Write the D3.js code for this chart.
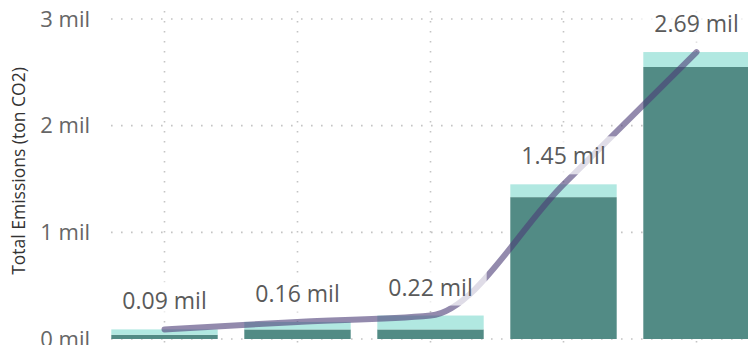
<!DOCTYPE html>
<html>
<head>
<meta charset="utf-8">
<script src="https://cdn.jsdelivr.net/npm/d3@7"></script>
<style>
  html, body { margin: 0; padding: 0; background: #ffffff; overflow: hidden; }
  svg { display: block; font-family: "Open Sans", "Noto Sans", sans-serif; }
</style>
</head>
<body>
<svg id="chart" width="748" height="345"></svg>
<script>
// Emissions per group, in millions of tonnes CO2
const categories = ["Group 1", "Group 2", "Group 3", "Group 4", "Group 5"];
const baseEmissions = [0.04, 0.09, 0.09, 1.33, 2.55];     // dark segment
const extraEmissions = [0.05, 0.07, 0.13, 0.12, 0.14];    // light segment on top
const totalEmissions = [0.09, 0.16, 0.22, 1.45, 2.69];    // line + labels
const yTicks = [0, 1, 2, 3];
const yTitle = "Total Emissions (ton CO2)";

const svg = d3.select("#chart");

const x = d3.scaleBand()
  .domain(categories)
  .range([98, 763])
  .paddingInner(0.2)
  .paddingOuter(0.1);

const y = d3.scaleLinear().domain([0, 3]).range([339, 19]);

const tickFmt = d => d + " mil";
const labelFmt = d => d3.format(".2f")(d) + " mil";

// gridlines (dotted)
const grid = svg.append("g").attr("class", "grid");
grid.selectAll("line.h").data(yTicks).join("line")
  .attr("class", "h")
  .attr("x1", 111).attr("x2", 748)
  .attr("y1", d => y(d)).attr("y2", d => y(d))
  .attr("stroke", "#c4c4c4").attr("stroke-width", 1.6)
  .attr("stroke-dasharray", "1.6 8.4");
grid.selectAll("line.v").data(categories).join("line")
  .attr("class", "v")
  .attr("x1", d => x(d) + x.bandwidth() / 2).attr("x2", d => x(d) + x.bandwidth() / 2)
  .attr("y1", 11).attr("y2", 345)
  .attr("stroke", "#c4c4c4").attr("stroke-width", 1.6)
  .attr("stroke-dasharray", "1.6 8.4");

// y axis labels
const yAxis = d3.axisLeft(y).tickValues(yTicks).tickFormat(tickFmt).tickSize(0).tickPadding(0);
const yg = svg.append("g").attr("transform", "translate(90,0)").call(yAxis);
yg.select(".domain").remove();
yg.selectAll("text")
  .attr("fill", "#666666")
  .style("font-size", "22px")
  .style("font-family", "'Open Sans', sans-serif");

// axis title
svg.append("text")
  .attr("transform", "translate(18,171) rotate(-90)")
  .attr("text-anchor", "middle")
  .attr("dominant-baseline", "central")
  .attr("fill", "#333333")
  .style("font-size", "17.5px")
  .text(yTitle);

// stacked bars
const rows = categories.map((c, i) => ({ cat: c, base: baseEmissions[i], extra: extraEmissions[i] }));
const series = d3.stack().keys(["base", "extra"])(rows);
const colors = { base: "#528b85", extra: "#b1e8e1" };

svg.append("g").selectAll("g").data(series).join("g")
  .attr("fill", s => colors[s.key])
  .selectAll("rect").data(s => s).join("rect")
  .attr("x", d => x(d.data.cat))
  .attr("width", x.bandwidth())
  .attr("y", d => y(d[1]))
  .attr("height", d => y(d[0]) - y(d[1]));

// total line
const pts = categories.map((c, i) => [x(c) + x.bandwidth() / 2, y(totalEmissions[i])]);
svg.append("path")
  .datum(pts)
  .attr("d", d3.line().curve(d3.curveMonotoneX))
  .attr("fill", "none")
  .attr("stroke", "#4b3c77")
  .attr("stroke-opacity", 0.6)
  .attr("stroke-width", 6)
  .attr("stroke-linecap", "round")
  .attr("stroke-linejoin", "round");

// data labels with translucent backgrounds
const lg = svg.append("g");
categories.forEach((c, i) => {
  const g = lg.append("g");
  const t = g.append("text")
    .attr("x", x(c) + x.bandwidth() / 2)
    .attr("y", y(totalEmissions[i]) - 29)
    .attr("text-anchor", "middle")
    .attr("dominant-baseline", "central")
    .attr("fill", "#5a5a5a")
    .style("font-size", "23px")
    .text(labelFmt(totalEmissions[i]));
  const b = t.node().getBBox();
  g.insert("rect", "text")
    .attr("x", b.x - 14).attr("y", b.y - 3)
    .attr("width", b.width + 28).attr("height", b.height + 6)
    .attr("fill", "#ffffff").attr("fill-opacity", 0.7);
});
</script>
</body>
</html>
